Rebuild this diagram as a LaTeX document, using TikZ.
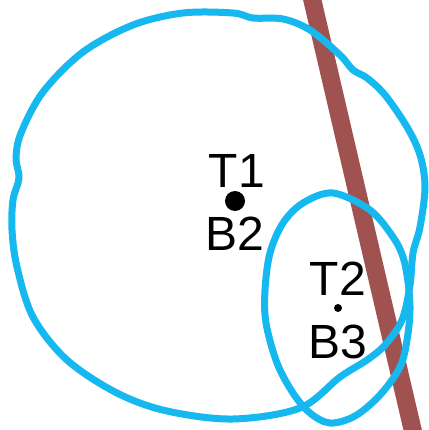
\documentclass[tikz,border=0pt]{standalone}
\usepackage{fontspec}
\setmainfont{Liberation Sans}
\definecolor{ringblue}{RGB}{22,184,240}
\definecolor{rodbrown}{RGB}{160,82,80}
\begin{document}
\begin{tikzpicture}[x=1pt,y=-1pt,
  ring/.style={draw=ringblue,line width=7pt,line join=round},
  rod/.style={draw=rodbrown,line width=18pt},
  lbl/.style={font=\fontsize{48}{48}\selectfont,anchor=base,inner sep=0pt},
  bigdot/.style={circle,fill=black,inner sep=0pt,minimum size=20pt},
  smalldot/.style={circle,fill=black,inner sep=0pt,minimum size=8pt}]
\useasboundingbox (0,0) rectangle (428,430);
\fill[white] (0,0) rectangle (428,430);
\coordinate (rtop) at (310,-10);
\coordinate (rbot) at (415,440);
\draw[rod] (rtop) -- (rbot);
% big ring
\draw[ring] plot[smooth cycle,tension=0.55] coordinates {
 (233,13) (253,18) (283,19) (310,30) (340,55) (353,70) (367,78) (385,95)
 (407,127) (420,155) (425,187) (420,227) (413,253) (410,285) (402,320)
 (385,345) (367,360) (340,377) (300,408) (233,419) (167,411) (117,393)
 (67,360) (33,317) (17,267) (12,230) (13,200) (19,178) (16,158) (21,133)
 (43,92) (83,52) (133,25) (183,13)};
% small ring
\draw[ring] plot[smooth cycle,tension=0.55] coordinates {
 (333,193) (370,210) (393,237) (403,257) (408,282) (410,310) (407,340)
 (400,367) (380,395) (355,416) (330,423) (310,413) (293,393) (277,363)
 (266,323) (265,290) (270,253) (283,223) (303,203)};
\node[bigdot] (d1) at (235,201) {};
\node[smalldot] (d2) at (338,308) {};
\node[lbl] (t1) at (237,187) {T1};
\node[lbl] (b2) at (235,250) {B2};
\node[lbl] (t2) at (338,295) {T2};
\node[lbl] (b3) at (338,358) {B3};
\end{tikzpicture}
\end{document}
